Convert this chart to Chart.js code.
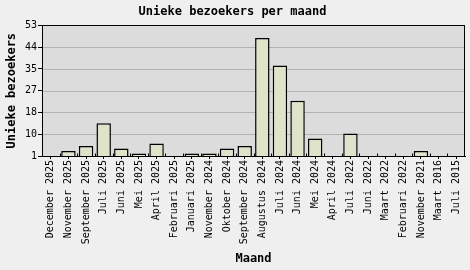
<!DOCTYPE html>
<html lang="nl">
<head>
  <meta charset="UTF-8">
  <title>Unieke bezoekers per maand</title>
  <script src="https://cdn.jsdelivr.net/npm/chart.js"></script>
  <style>
    html, body { margin: 0; padding: 0; background: #efefef; }
    #wrap { width: 470px; height: 270px; }
  </style>
</head>
<body>
  <div id="wrap"><canvas id="chart" width="470" height="270"></canvas></div>
  <script>
    const months = [
      "December 2025", "November 2025", "September 2025", "Juli 2025", "Juni 2025",
      "Mei 2025", "April 2025", "Februari 2025", "Januari 2025", "November 2024",
      "Oktober 2024", "September 2024", "Augustus 2024", "Juli 2024", "Juni 2024",
      "Mei 2024", "April 2024", "Juli 2022", "Juni 2022", "Maart 2022",
      "Februari 2022", "November 2021", "Maart 2016", "Juli 2015"
    ];
    const visitors = [1, 3, 5, 14, 4, 2, 6, 1, 2, 2, 4, 5, 48, 37, 23, 8, 1, 10, 1, 1, 1, 3, 1, 1];
    const yTickLabels = ["1", "10", "18", "27", "35", "44", "53"];
    const yMin = 1, yMax = 53;

    // plot background + frame, drawn under/over the bars
    const plotFrame = {
      id: 'plotFrame',
      beforeDatasetsDraw(chart) {
        const a = chart.chartArea, c = chart.ctx;
        c.save();
        c.fillStyle = '#dcdcdc';
        c.fillRect(a.left, a.top, a.right - a.left, a.bottom - a.top);
        // horizontal grid
        const y = chart.scales.y;
        c.strokeStyle = '#b2b2b2';
        c.lineWidth = 1;
        y.ticks.forEach(t => {
          const py = Math.round(y.getPixelForValue(t.value)) + 0.5;
          c.beginPath(); c.moveTo(a.left, py); c.lineTo(a.right, py); c.stroke();
        });
        c.restore();
      },
      afterDatasetsDraw(chart) {
        const a = chart.chartArea, c = chart.ctx;
        c.save();
        c.strokeStyle = '#000';
        c.lineWidth = 1;
        c.strokeRect(Math.round(a.left) + 0.5, Math.round(a.top) + 0.5,
                     Math.round(a.right - a.left) - 1, Math.round(a.bottom - a.top));
        // small tick marks at category edges pointing up
        const bw = (a.right - a.left) / months.length;
        const by = Math.round(a.bottom) + 0.5;
        for (let i = 1; i < months.length; i++) {
          const px = Math.round(a.left + i * bw) + 0.5;
          c.beginPath(); c.moveTo(px, by); c.lineTo(px, by - 3); c.stroke();
        }
        c.restore();
      }
    };

    const bgPlugin = {
      id: 'bg',
      beforeDraw(chart) {
        const c = chart.ctx;
        c.save();
        c.fillStyle = '#efefef';
        c.fillRect(0, 0, chart.width, chart.height);
        c.restore();
      }
    };

    const mono = "'DejaVu Sans Mono', monospace";

    new Chart(document.getElementById('chart'), {
      type: 'bar',
      data: {
        labels: months,
        datasets: [{
          data: visitors,
          backgroundColor: '#dfe3c9',
          borderColor: '#000000',
          borderWidth: 1.5,
          borderSkipped: 'bottom',
          barPercentage: 0.82,
          categoryPercentage: 1.0
        }]
      },
      options: {
        responsive: false,
        animation: false,
        devicePixelRatio: 1,
        layout: { padding: { top: 0, right: 5, left: 0, bottom: 0 } },
        plugins: {
          legend: { display: false },
          tooltip: { enabled: false },
          title: {
            display: true,
            text: 'Unieke bezoekers per maand',
            color: '#000',
            font: { family: mono, size: 12, weight: 'bold' },
            padding: { top: 5, bottom: 6 }
          }
        },
        scales: {
          x: {
            offset: true,
            grid: { display: true, drawOnChartArea: false, offset: false, color: '#000', tickLength: 3 },
            border: { display: true, color: '#000' },
            ticks: {
              color: '#000',
              font: { family: mono, size: 10 },
              minRotation: 90, maxRotation: 90,
              autoSkip: false,
              padding: 1
            },
            title: {
              display: true,
              text: 'Maand',
              color: '#000',
              font: { family: mono, size: 12, weight: 'bold' },
              padding: { top: 0, bottom: 4 }
            },
            afterFit(scale) { scale.height = 114; }
          },
          y: {
            min: yMin, max: yMax,
            grid: { display: true, drawOnChartArea: false, color: '#000', tickLength: 4 },
            border: { display: true, color: '#000' },
            afterBuildTicks(scale) {
              scale.ticks = yTickLabels.map((l, i) => ({
                value: yMin + i * (yMax - yMin) / (yTickLabels.length - 1),
                label: l
              }));
            },
            ticks: {
              color: '#000',
              font: { family: mono, size: 10 },
              padding: 1,
              callback: (v, i) => yTickLabels[i]
            },
            title: {
              display: true,
              text: 'Unieke bezoekers',
              color: '#000',
              font: { family: mono, size: 12, weight: 'bold' },
              padding: { top: 5, bottom: 0 }
            },
            afterFit(scale) { scale.width = 42; }
          }
        }
      },
      plugins: [bgPlugin, plotFrame]
    });
  </script>
</body>
</html>
